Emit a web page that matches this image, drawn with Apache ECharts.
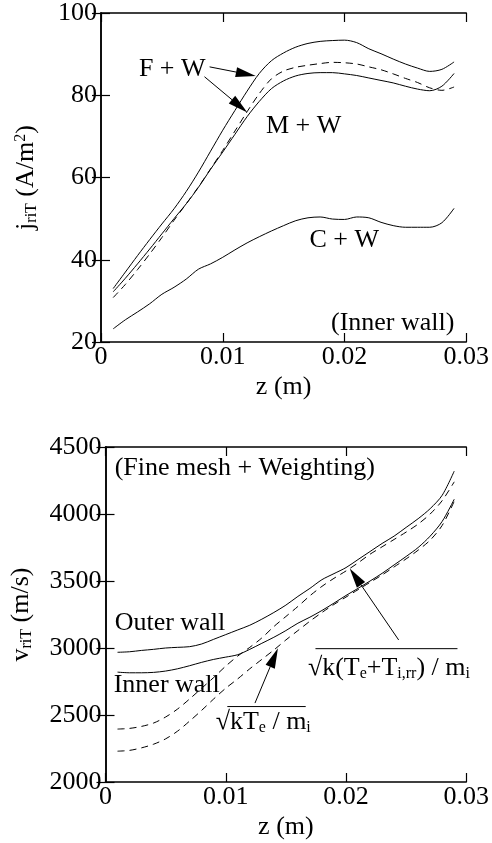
<!DOCTYPE html>
<html>
<head>
<meta charset="utf-8">
<script src="https://cdn.jsdelivr.net/npm/echarts@6/dist/echarts.min.js"></script>
<style>
  html, body { margin: 0; padding: 0; background: #fff; }
  #chart { width: 492px; height: 843px; }
</style>
</head>
<body>
<div id="chart"></div>
<script>
// axial position (m)
const z = [0.001, 0.002, 0.003, 0.004, 0.005, 0.006, 0.007, 0.008, 0.009, 0.010,
           0.011, 0.012, 0.013, 0.014, 0.015, 0.016, 0.017, 0.018, 0.019, 0.020,
           0.021, 0.022, 0.023, 0.024, 0.025, 0.026, 0.027, 0.028, 0.029];

// upper panel: j_riT (A/m^2), inner wall
const jFW  = [33.0, 37.0, 41.0, 44.9, 48.7, 52.4, 56.6, 61.3, 66.4, 71.5,
              76.3, 81.0, 85.3, 88.4, 90.3, 91.7, 92.6, 93.1, 93.3, 93.4,
              92.8, 91.3, 90.1, 88.8, 87.6, 86.6, 85.8, 86.3, 88.1];
const jFWd = [30.8, 34.0, 37.6, 41.4, 45.4, 49.6, 53.6, 57.7, 62.1, 66.6,
              71.3, 76.0, 80.4, 84.0, 85.9, 86.8, 87.3, 87.7, 88.0, 87.9,
              87.6, 86.9, 86.2, 85.2, 84.1, 83.1, 81.8, 81.2, 82.0];
const jMW  = [32.2, 35.5, 39.0, 42.6, 46.3, 50.0, 53.6, 57.6, 62.0, 66.2,
              70.5, 74.8, 78.5, 81.6, 83.5, 84.7, 85.3, 85.5, 85.5, 85.2,
              84.8, 84.2, 83.6, 83.0, 82.2, 81.5, 81.1, 82.2, 85.3];
const jCW  = [23.2, 25.4, 27.3, 29.3, 31.6, 33.3, 35.3, 37.7, 39.0, 40.6,
              42.4, 44.1, 45.6, 47.0, 48.3, 49.5, 50.2, 50.4, 49.9, 49.8,
              50.4, 50.2, 49.1, 48.3, 47.9, 47.9, 47.9, 49.0, 52.5];

// lower panel: v_riT (m/s)
const vOut  = [2968, 2972, 2982, 2990, 3000, 3005, 3010, 3030, 3065, 3100,
               3135, 3170, 3215, 3265, 3320, 3385, 3445, 3510, 3555, 3600,
               3660, 3720, 3780, 3835, 3900, 3965, 4040, 4140, 4320];
const vOutD = [2395, 2400, 2415, 2440, 2485, 2545, 2620, 2700, 2780, 2865,
               2940, 3005, 3075, 3160, 3235, 3310, 3390, 3460, 3520, 3575,
               3635, 3700, 3755, 3810, 3865, 3925, 4000, 4100, 4240];
const vIn   = [2820, 2815, 2815, 2818, 2828, 2845, 2868, 2893, 2915, 2932,
               2950, 2990, 3035, 3080, 3130, 3185, 3230, 3280, 3335, 3392,
               3445, 3500, 3557, 3620, 3683, 3750, 3835, 3945, 4110];
const vInD  = [2230, 2236, 2255, 2282, 2322, 2380, 2455, 2535, 2620, 2700,
               2770, 2845, 2915, 2985, 3060, 3130, 3200, 3265, 3325, 3380,
               3435, 3490, 3545, 3605, 3665, 3730, 3805, 3915, 4095];

const FONT = '"Liberation Serif", "Times New Roman", serif';
const FS = 26;
const subRich = {
  s: { fontSize: 16, fontFamily: FONT, color: '#000', padding: [11, 0, 0, 0] },
  p: { fontSize: 16, fontFamily: FONT, color: '#000', padding: [0, 0, 11, 0] }
};

function pairs(xs, ys) {
  return xs.map((x, i) => [x, ys[i]]);
}

function xAxes(grid, top) {
  return {
    gridIndex: grid,
    type: 'value',
    position: top ? 'top' : 'bottom',
    min: 0, max: 0.03, interval: 0.01,
    name: top ? '' : 'z (m)',
    nameLocation: 'middle',
    nameGap: 32,
    nameTextStyle: { fontSize: FS, fontFamily: FONT, color: '#000' },
    axisLine: { show: true, lineStyle: { color: '#000', width: 1.5 } },
    axisTick: { show: true, inside: true, length: 9, lineStyle: { color: '#000', width: 1.2 } },
    axisLabel: { show: !top, fontSize: FS, fontFamily: FONT, color: '#000', margin: 2,
                 formatter: (v) => String(v) },
    splitLine: { show: false }
  };
}

function yAxes(grid, right, min, max, interval, name, gap) {
  return {
    gridIndex: grid,
    type: 'value',
    position: right ? 'right' : 'left',
    min: min, max: max, interval: interval,
    name: right ? '' : name,
    nameLocation: 'middle',
    nameGap: gap,
    nameTextStyle: { fontSize: FS, fontFamily: FONT, color: '#000', rich: subRich },
    axisLine: { show: true, lineStyle: { color: '#000', width: 1.5 } },
    axisTick: { show: true, inside: true, length: 9, lineStyle: { color: '#000', width: 1.2 } },
    axisLabel: { show: !right, fontSize: FS, fontFamily: FONT, color: '#000', margin: 4,
                 formatter: (v) => String(v) },
    splitLine: { show: false }
  };
}

function curve(name, grid, data, dashed) {
  return {
    name: name,
    type: 'line',
    xAxisIndex: grid * 2,
    yAxisIndex: grid * 2,
    data: data,
    showSymbol: false,
    smooth: 0.3,
    silent: true,
    lineStyle: { color: '#000', width: 1, type: dashed ? [7, 5] : 'solid' }
  };
}

const option = {
  animation: false,
  backgroundColor: '#fff',
  grid: [
    { left: 101, right: 23, top: 7, height: 335 },
    { left: 101, right: 23, top: 447, height: 335 }
  ],
  xAxis: [xAxes(0, false), xAxes(0, true), xAxes(1, false), xAxes(1, true)],
  yAxis: [
    yAxes(0, false, 20, 100, 20, '{n|j}{s|riT} (A/m{p|2})', 61),
    yAxes(0, true, 20, 100, 20),
    yAxes(1, false, 2000, 4500, 500, 'v{s|riT} (m/s)', 71),
    yAxes(1, true, 2000, 4500, 500)
  ],
  series: [
    curve('F + W', 0, pairs(z, jFW), false),
    curve('F + W (dashed)', 0, pairs(z, jFWd), true),
    curve('M + W', 0, pairs(z, jMW), false),
    curve('C + W', 0, pairs(z, jCW), false),
    curve('Outer wall', 1, pairs(z, vOut), false),
    curve('Outer wall sqrt(k(Te+Ti,rr)/mi)', 1, pairs(z, vOutD), true),
    curve('Inner wall', 1, pairs(z, vIn), false),
    curve('Inner wall sqrt(kTe/mi)', 1, pairs(z, vInD), true)
  ]
};

const chart = echarts.init(document.getElementById('chart'));
chart.setOption(option);

function px(grid, pt) {
  return chart.convertToPixel({ gridIndex: grid }, pt);
}

function label(grid, pt, text, align) {
  const p = px(grid, pt);
  return {
    type: 'text', x: p[0], y: p[1], silent: true,
    style: {
      text: text, fontSize: FS, fontFamily: FONT, fill: '#000',
      align: align || 'center', verticalAlign: 'middle',
      rich: {
        s: { fontSize: 16, fontFamily: FONT, fill: '#000', padding: [11, 0, 0, 0] }
      }
    }
  };
}

function arrow(grid, from, to) {
  const a = px(grid, from), b = px(grid, to);
  const dx = b[0] - a[0], dy = b[1] - a[1];
  const len = Math.hypot(dx, dy);
  const ux = dx / len, uy = dy / len;
  const hl = 20, hw = 5;
  const bx = b[0] - ux * hl, by = b[1] - uy * hl;
  return [
    { type: 'line', silent: true, shape: { x1: a[0], y1: a[1], x2: bx, y2: by },
      style: { stroke: '#000', lineWidth: 1 } },
    { type: 'polygon', silent: true,
      shape: { points: [[b[0], b[1]], [bx - uy * hw, by + ux * hw], [bx + uy * hw, by - ux * hw]] },
      style: { fill: '#000' } }
  ];
}

function overline(grid, from, to) {
  const a = px(grid, from), b = px(grid, to);
  return { type: 'line', silent: true, shape: { x1: a[0], y1: a[1], x2: b[0], y2: b[1] },
           style: { stroke: '#000', lineWidth: 1 } };
}

const graphics = [
  label(0, [0.00585, 86.4], 'F + W'),
  label(0, [0.01664, 72.5], 'M + W'),
  label(0, [0.01998, 44.7], 'C + W'),
  label(0, [0.02903, 24.5], '(Inner wall)', 'right'),
  ...arrow(0, [0.00892, 86.9], [0.01271, 84.7]),
  ...arrow(0, [0.0085, 84.5], [0.01202, 75.8]),

  label(1, [0.00076, 4341], '(Fine mesh + Weighting)', 'left'),
  label(1, [0.00076, 3185], 'Outer wall', 'left'),
  label(1, [0.00068, 2720], 'Inner wall', 'left'),
  label(1, [0.00916, 2449], '\u221akT{s|e} / m{s|i}', 'left'),
  overline(1, [0.01013, 2563], [0.01665, 2563]),
  ...arrow(1, [0.01243, 2589], [0.01434, 2998]),
  label(1, [0.01683, 2851], '\u221ak(T{s|e}+T{s|i,rr}) / m{s|i}', 'left'),
  overline(1, [0.01746, 2995], [0.02927, 2995]),
  ...arrow(1, [0.02438, 3060], [0.02031, 3594])
];

chart.setOption({ graphic: graphics });
</script>
</body>
</html>
